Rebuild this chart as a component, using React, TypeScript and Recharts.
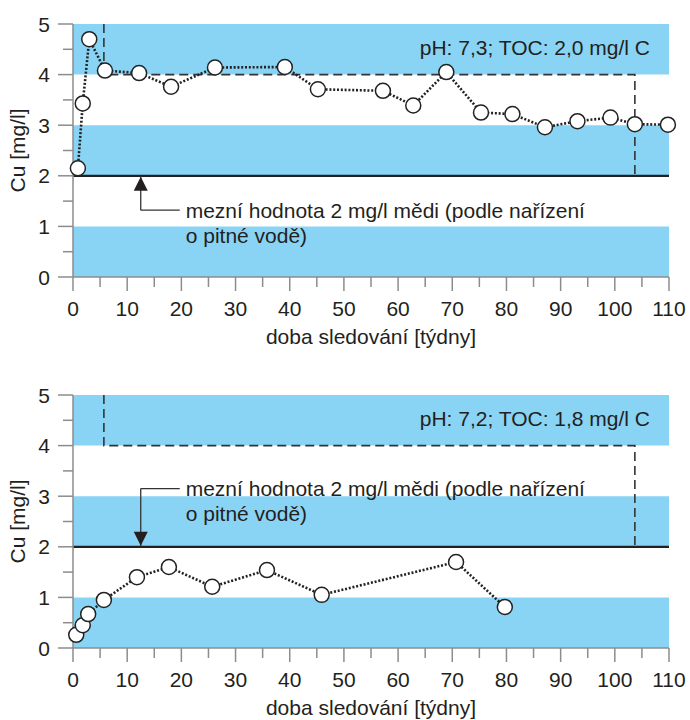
import React from 'react';
import {
  ComposedChart, Line, XAxis, YAxis, ReferenceArea, ReferenceLine, ReferenceDot,
} from 'recharts';

// top chart: pH 7,3
const topWeeks = [0.9, 1.8, 3.0, 5.9, 12.2, 18.1, 26.2, 39.1, 45.2, 57.2, 62.8, 68.9, 75.3, 81.1, 87.1, 93.1, 99.2, 103.7, 109.8];
const topCu = [2.15, 3.43, 4.70, 4.08, 4.03, 3.76, 4.14, 4.15, 3.71, 3.68, 3.39, 4.05, 3.25, 3.22, 2.96, 3.08, 3.15, 3.02, 3.01];

// bottom chart: pH 7,2
const botWeeks = [0.6, 1.8, 2.8, 5.7, 11.8, 17.7, 25.7, 35.8, 45.9, 70.7, 79.7];
const botCu = [0.26, 0.45, 0.67, 0.95, 1.40, 1.60, 1.21, 1.54, 1.05, 1.70, 0.81];

// dashed frame (same in both panels)
const frameWeeks = [5.7, 5.7, 103.7, 103.7];
const frameCu = [5, 4, 4, 2];

const xTicks = [0, 5, 10, 15, 20, 25, 30, 35, 40, 45, 50, 55, 60, 65, 70, 75, 80, 85, 90, 95, 100, 105, 110];
const yTicks = [0, 0.5, 1, 1.5, 2, 2.5, 3, 3.5, 4, 4.5, 5];
const bands: [number, number][] = [[0, 1], [2, 3], [4, 5]];

const LIMIT = 2;
const ARROW_X = 12.5;
const LABEL_X = 20.8;

const BLUE = '#89d4f5';
const INK = '#231f20';
const AXIS = '#8c8c8c';
const FONT = '"Liberation Sans", Arial, sans-serif';
const FS = 21;

const toPoints = (xs: number[], ys: number[]) => xs.map((x, i) => ({ x, y: ys[i] }));

const XTick = (props: any) => {
  const { x, y, payload } = props;
  const major = payload.value % 10 === 0;
  return (
    <g>
      <line x1={x} x2={x} y1={y} y2={y + (major ? 14 : 10)} stroke={AXIS} strokeWidth={1.5} />
      {major && (
        <text x={x} y={y + 39} textAnchor="middle" fontSize={FS} fill={INK} fontFamily={FONT}>
          {payload.value}
        </text>
      )}
    </g>
  );
};

const YTick = (props: any) => {
  const { x, y, payload } = props;
  const major = Number.isInteger(payload.value);
  return (
    <g>
      <line x1={x - (major ? 15 : 10)} x2={x} y1={y} y2={y} stroke={AXIS} strokeWidth={1.5} />
      {major && (
        <text x={x - 23} y={y + 7.5} textAnchor="end" fontSize={FS} fill={INK} fontFamily={FONT}>
          {payload.value}
        </text>
      )}
    </g>
  );
};

const XTitle = ({ viewBox }: any) => (
  <text x={viewBox.x + viewBox.width / 2} y={viewBox.y + 67} textAnchor="middle"
    fontSize={FS} fill={INK} fontFamily={FONT}>
    doba sledování [týdny]
  </text>
);

const YTitle = ({ viewBox }: any) => {
  const cx = 25;
  const cy = viewBox.y + viewBox.height / 2;
  return (
    <text x={cx} y={cy} transform={`rotate(-90 ${cx} ${cy})`} textAnchor="middle"
      fontSize={FS} fill={INK} fontFamily={FONT}>
      Cu [mg/l]
    </text>
  );
};

const Note = ({ cx, cy }: any) => (
  <text x={cx} y={cy + 7.5} fontSize={FS} fill={INK} fontFamily={FONT}>
    <tspan x={cx}>mezní hodnota 2 mg/l mědi (podle nařízení</tspan>
    <tspan x={cx} dy={25}>o pitné vodě)</tspan>
  </text>
);

const Arrowhead = ({ cx, cy, up }: any) => {
  const d = up ? 1 : -1;
  return (
    <polygon points={`${cx},${cy + d} ${cx - 7},${cy + d * 15} ${cx + 7},${cy + d * 15}`} fill={INK} />
  );
};

const Panel = ({ weeks, cu, height, top, xHeight, label, legY, up }: any) => {
  const pts = toPoints(weeks, cu);
  const frame = toPoints(frameWeeks, frameCu);
  return (
    <ComposedChart width={690} height={height} margin={{ top, right: 21, bottom: 0, left: 0 }}
      style={{ overflow: 'visible' }}>
      <XAxis
        type="number" dataKey="x" domain={[0, 110]} ticks={xTicks} interval={0}
        height={xHeight} tickSize={0} tickMargin={0} tick={<XTick />}
        axisLine={{ stroke: AXIS, strokeWidth: 1.5 }} tickLine={false}
        label={<XTitle />}
      />
      <YAxis
        type="number" dataKey="y" domain={[0, 5]} ticks={yTicks} interval={0}
        width={73} tickSize={0} tickMargin={0} tick={<YTick />}
        axisLine={{ stroke: AXIS, strokeWidth: 1.5 }} tickLine={false}
        label={<YTitle />}
      />
      {bands.map(([a, b]) => (
        <ReferenceArea key={a} x1={0} x2={110} y1={a} y2={b} fill={BLUE} fillOpacity={1} stroke="none" />
      ))}
      <ReferenceLine y={LIMIT} stroke={INK} strokeWidth={2.2} />
      <ReferenceLine segment={[{ x: ARROW_X, y: LIMIT }, { x: ARROW_X, y: legY }]} stroke="#333" strokeWidth={1.3} />
      <ReferenceLine segment={[{ x: ARROW_X, y: legY }, { x: 19.7, y: legY }]} stroke="#333" strokeWidth={1.3} />
      <ReferenceDot x={ARROW_X} y={LIMIT} shape={(p: any) => <Arrowhead {...p} up={up} />} />
      <ReferenceDot x={LABEL_X} y={legY} shape={(p: any) => <Note {...p} />} />
      <ReferenceDot x={106.5} y={4.54} shape={(p: any) => (
        <text x={p.cx} y={p.cy + 7.5} textAnchor="end" fontSize={FS} fill={INK} fontFamily={FONT}>{label}</text>
      )} />
      <Line data={frame} dataKey="y" stroke="#333" strokeWidth={1.6} strokeDasharray="9 5"
        dot={false} activeDot={false} isAnimationActive={false} />
      <Line data={pts} dataKey="y" stroke="#222" strokeWidth={2.6} strokeDasharray="2 1.8"
        dot={{ r: 7.5, fill: '#fff', stroke: '#222', strokeWidth: 1.5, strokeDasharray: '' }}
        activeDot={false} isAnimationActive={false} />
    </ComposedChart>
  );
};

export default function App() {
  return (
    <div style={{ position: 'absolute', top: 0, left: 0, width: 690, height: 720, overflow: 'hidden', background: '#fff', fontFamily: FONT }}>
      <Panel weeks={topWeeks} cu={topCu} height={370} top={24} xHeight={93}
        label="pH: 7,3; TOC: 2,0 mg/l C" legY={1.32} up />
      <Panel weeks={botWeeks} cu={botCu} height={350} top={25} xHeight={72}
        label="pH: 7,2; TOC: 1,8 mg/l C" legY={3.15} up={false} />
    </div>
  );
}
